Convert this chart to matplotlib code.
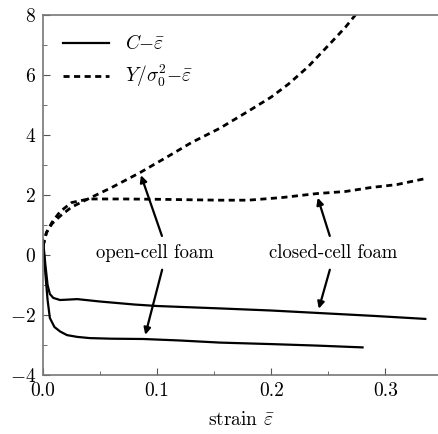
import matplotlib
matplotlib.use("Agg")
import matplotlib.pyplot as plt
from matplotlib.ticker import MultipleLocator

plt.rcParams["font.family"] = ["cmr10", "DejaVu Serif"]
plt.rcParams["mathtext.fontset"] = "cm"
plt.rcParams["axes.formatter.use_mathtext"] = True

# -------------------------------------------------
# Data
# -------------------------------------------------
open_y_x = [0.0, 0.003, 0.008, 0.015, 0.025, 0.041, 0.06, 0.085, 0.11, 0.13, 0.155,
            0.18, 0.2, 0.215, 0.232, 0.252, 0.265, 0.28]
open_y_v = [0.3, 0.75, 1.05, 1.3, 1.6, 1.9, 2.25, 2.75, 3.3, 3.75, 4.23,
            4.8, 5.27, 5.7, 6.27, 7.07, 7.6, 8.3]

closed_y_x = [0.0, 0.003, 0.008, 0.015, 0.025, 0.04, 0.07, 0.1, 0.155, 0.18, 0.21,
              0.24, 0.265, 0.287, 0.31, 0.335]
closed_y_v = [0.3, 0.75, 1.1, 1.45, 1.75, 1.87, 1.87, 1.86, 1.83, 1.83, 1.92,
              2.05, 2.12, 2.25, 2.35, 2.55]

closed_c_x = [0.0, 0.002, 0.004, 0.006, 0.009, 0.015, 0.03, 0.05, 0.08, 0.1, 0.155,
              0.2, 0.24, 0.29, 0.335]
closed_c_v = [0.5, -0.3, -1.0, -1.3, -1.43, -1.5, -1.47, -1.55, -1.65, -1.7, -1.78,
              -1.85, -1.93, -2.03, -2.13]

open_c_x = [0.0, 0.002, 0.004, 0.006, 0.01, 0.015, 0.021, 0.03, 0.041, 0.06, 0.088,
            0.12, 0.155, 0.2, 0.24, 0.28]
open_c_v = [0.5, -0.6, -1.5, -2.1, -2.4, -2.55, -2.67, -2.73, -2.77, -2.79, -2.8,
            -2.85, -2.92, -2.97, -3.02, -3.08]

# -------------------------------------------------
# Plot
# -------------------------------------------------
fig = plt.figure(figsize=(4.39, 4.34), dpi=100)
ax = fig.add_axes([0.098, 0.136, 0.902, 0.829])

ax.plot(open_c_x, open_c_v, color="black", lw=1.6, label=r"$C{-}\bar{\varepsilon}$")
ax.plot(open_y_x, open_y_v, color="black", lw=2.0, ls=(0, (2.2, 1.6)),
        label=r"$Y/\sigma_0^2{-}\bar{\varepsilon}$")
ax.plot(closed_c_x, closed_c_v, color="black", lw=1.6)
ax.plot(closed_y_x, closed_y_v, color="black", lw=2.0, ls=(0, (2.2, 1.6)))

arrow = dict(arrowstyle="-|>", color="black", lw=1.6, mutation_scale=10)
ax.text(0.098, 0.07, "open-cell foam", ha="center", va="center", fontsize=13.5)
ax.annotate("", xy=(0.085, 2.75), xytext=(0.105, 0.55), arrowprops=arrow)
ax.annotate("", xy=(0.089, -2.75), xytext=(0.105, -0.4), arrowprops=arrow)
ax.text(0.254, 0.07, "closed-cell foam", ha="center", va="center", fontsize=13.5)
ax.annotate("", xy=(0.24, 2.0), xytext=(0.252, 0.55), arrowprops=arrow)
ax.annotate("", xy=(0.241, -1.88), xytext=(0.252, -0.4), arrowprops=arrow)

ax.set_xlim(0, 0.347)
ax.set_ylim(-4, 8)
ax.xaxis.set_major_locator(MultipleLocator(0.1))
ax.xaxis.set_minor_locator(MultipleLocator(0.05))
ax.yaxis.set_major_locator(MultipleLocator(2))
ax.yaxis.set_minor_locator(MultipleLocator(1))
ax.xaxis.set_major_formatter(plt.FuncFormatter(lambda v, p: f"{v:.1f}"))
ax.tick_params(which="both", direction="in", labelsize=14, color="#555555")
ax.tick_params(which="major", length=5, pad=5)
ax.tick_params(which="minor", length=3)
ax.spines["right"].set_visible(False)
for s in ["left", "bottom", "top"]:
    ax.spines[s].set_color("#777777")
    ax.spines[s].set_linewidth(1.2)
ax.set_xlabel(r"strain $\bar{\varepsilon}$", fontsize=14, labelpad=8)

ax.legend(loc="upper left", frameon=False, fontsize=14, handlelength=2.4,
          bbox_to_anchor=(0.005, 0.995))

plt.savefig("out.png", dpi=100)
